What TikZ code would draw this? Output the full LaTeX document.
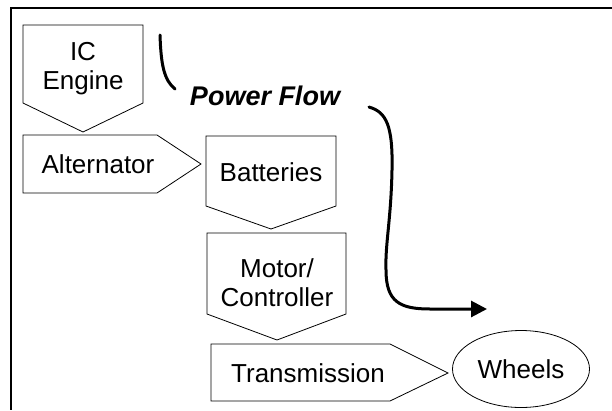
\documentclass[tikz,border=0pt]{standalone}
\usepackage{fontspec}
\setmainfont{Liberation Sans}
\usetikzlibrary{arrows.meta, shapes.geometric}

\begin{document}
\begin{tikzpicture}[x=1pt, y=-1pt,
  part/.style={draw=black, line width=0.8pt, line join=miter, fill=white},
  lbl/.style={align=center, inner sep=0pt, font=\fontsize{26}{29}\selectfont},
  flow/.style={line width=3pt, line cap=round},
  arr/.style={-{Triangle[length=16pt, width=16pt]}}
]
  \useasboundingbox (0,0) rectangle (612,410);
  % outer frame
  \draw[line width=2.5pt] (612,8) -- (11,8) -- (11,410);

  % blocks
  \draw[part] (23,25) -- (143,25) -- (143,103) -- (83,132) -- (23,103) -- cycle;
  \node[lbl] (engine) at (83,69) {IC\\Engine};
  \draw[part] (23,135) -- (157,135) -- (201,164) -- (157,193) -- (23,193) -- cycle;
  \node[lbl] (alt) at (98,164) {Alternator};
  \draw[part] (206,136) -- (336,136) -- (336,206) -- (271,229) -- (206,206) -- cycle;
  \node[lbl] (batt) at (271,172) {Batteries};
  \draw[part] (207,233) -- (346,233) -- (346,314) -- (277,340) -- (207,314) -- cycle;
  \node[lbl] (motor) at (277,283) {Motor/\\Controller};
  \draw[part] (211,344) -- (390,344) -- (448,373) -- (390,401) -- (211,401) -- cycle;
  \node[lbl] (trans) at (308,373) {Transmission};
  \node[lbl, draw, line width=0.8pt, ellipse, minimum width=137pt, minimum height=77pt]
    (wheels) at (521,369) {Wheels};

  % power flow
  \node[font=\fontsize{27}{30}\selectfont\bfseries\itshape] (title) at (265,96) {Power Flow};
  \coordinate (s1) at (160,35);
  \coordinate (e1) at (175,89);
  \draw[flow] (s1) .. controls (161,65) and (164,80) .. (e1);
  \coordinate (s2) at (369,107);
  \coordinate (e2) at (487,309);
  \draw[flow, arr] (s2) .. controls (386,112) and (393,125) .. (392,170)
    .. controls (391,220) and (385,245) .. (386,270)
    .. controls (386,302) and (400,309) .. (430,309) -- (e2);
\end{tikzpicture}
\end{document}
